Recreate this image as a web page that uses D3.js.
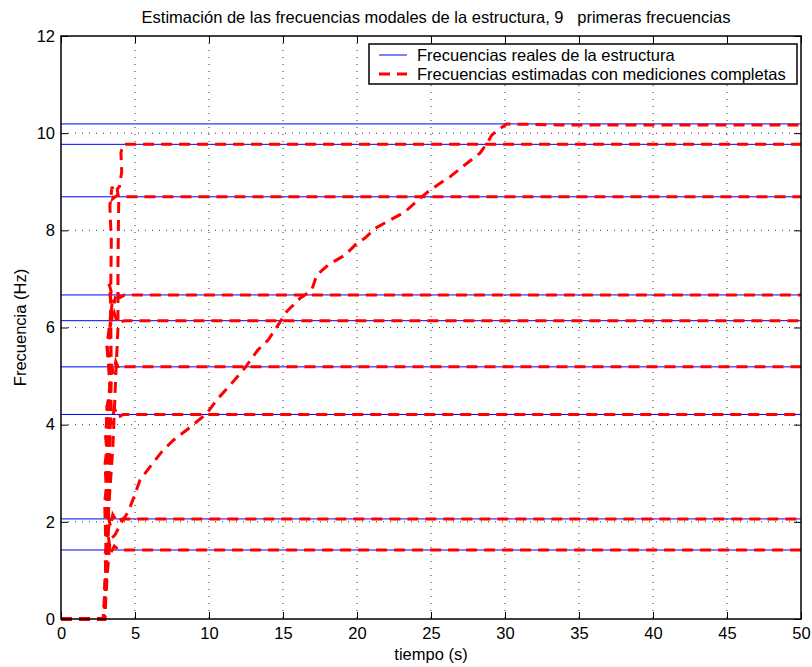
<!DOCTYPE html>
<html>
<head>
<meta charset="utf-8">
<script src="https://cdn.jsdelivr.net/npm/d3@7"></script>
<style>
  body { margin: 0; background: #fff; }
  text { font-family: "Liberation Sans", Arial, sans-serif; white-space: pre; }
</style>
</head>
<body>
<script>
// frecuencias reales (Hz)
const freqReales = [1.42, 2.06, 4.21, 5.19, 6.14, 6.67, 8.69, 9.77, 10.19];
const tiempoReal = [0, 50];

// frecuencias estimadas: tiempo (s) y frecuencia (Hz) de cada serie
const est1T = [0, 2.85, 2.95, 3.1, 2.95, 3.2, 3.35, 3.6, 3.9, 50];
const est1F = [0, 0, 0.3, 0.9, 1.3, 1.7, 1.35, 1.5, 1.42, 1.42];
const est2T = [0, 2.85, 3.0, 3.2, 3.05, 3.35, 3.5, 3.8, 4.1, 50];
const est2F = [0, 0, 0.8, 1.6, 2.3, 1.9, 2.15, 2.0, 2.06, 2.06];
const est3T = [0, 2.9, 3.0, 3.25, 3.05, 3.3, 3.1, 3.45, 3.6, 3.85, 4.2, 50];
const est3F = [0, 0, 1.0, 2.0, 3.0, 3.7, 4.4, 4.0, 4.35, 4.15, 4.21, 4.21];
const est4T = [0, 2.9, 3.05, 2.95, 3.3, 3.05, 3.4, 3.2, 3.55, 3.7, 3.9, 4.2, 50];
const est4F = [0, 0, 1.3, 2.4, 3.3, 4.2, 5.0, 5.5, 5.05, 5.3, 5.15, 5.19, 5.19];
const est5T = [0, 2.9, 3.1, 3.3, 3.0, 3.35, 3.1, 3.45, 3.3, 3.6, 3.8, 4.3, 50];
const est5F = [0, 0, 1.5, 2.8, 3.8, 4.9, 5.6, 6.5, 6.0, 6.3, 6.1, 6.14, 6.14];
const est6T = [0, 2.95, 3.15, 2.98, 3.4, 3.15, 3.45, 3.25, 3.6, 3.75, 4.0, 4.3, 50];
const est6F = [0, 0, 2.0, 3.2, 4.3, 5.5, 6.2, 6.9, 6.5, 6.75, 6.62, 6.67, 6.67];
const est7T = [0, 2.95, 3.1, 3.3, 3.4, 3.35, 3.4, 3.3, 3.45, 3.6, 3.5, 3.8, 4.2, 50];
const est7F = [0, 0, 1.8, 3.5, 5.0, 6.5, 7.8, 8.5, 8.9, 8.75, 8.65, 8.72, 8.69, 8.69];
const est8T = [0, 2.95, 3.15, 3.5, 3.7, 3.85, 3.85, 3.9, 3.8, 3.95, 4.1, 4.05, 4.2, 4.5, 50];
const est8F = [0, 0, 2.0, 3.5, 5.0, 6.0, 7.3, 8.6, 8.85, 8.9, 9.2, 9.6, 9.77, 9.77, 9.77];
const est9T = [0, 2.95, 3.1, 3.31, 3.65, 4.10, 4.55, 4.89, 5.34, 6.01, 6.80, 7.59, 8.49, 9.17, 9.85,
  10.52, 11.53, 12.43, 13.31, 13.99, 14.46, 15.25, 16.15, 16.94, 17.28, 18.06, 19.19, 19.98, 20.54,
  21.22, 22.23, 23.24, 24.26, 24.82, 25.61, 26.28, 27.30, 28.31, 28.87, 29.10, 29.55, 30.12, 33.7, 50];
const est9F = [0, 0, 0.8, 1.63, 1.73, 2.00, 2.21, 2.48, 2.86, 3.13, 3.44, 3.68, 3.89, 4.06, 4.23,
  4.51, 4.85, 5.17, 5.54, 5.74, 5.95, 6.33, 6.60, 6.77, 7.08, 7.29, 7.49, 7.73, 7.84,
  8.04, 8.21, 8.38, 8.66, 8.80, 8.97, 9.10, 9.35, 9.59, 9.83, 9.96, 10.07, 10.19, 10.17, 10.17];

const estT = [est1T, est2T, est3T, est4T, est5T, est6T, est7T, est8T, est9T];
const estF = [est1F, est2F, est3F, est4F, est5F, est6F, est7F, est8F, est9F];

const xTicks = [0, 5, 10, 15, 20, 25, 30, 35, 40, 45, 50];
const yTicks = [0, 2, 4, 6, 8, 10, 12];

const titulo = "Estimación de las frecuencias modales de la estructura, 9   primeras frecuencias";
const leyenda = ["Frecuencias reales de la estructura", "Frecuencias estimadas con mediciones completas"];

var margin = {top: 36, right: 11, bottom: 48, left: 61},
    width = 812 - margin.left - margin.right,
    height = 667 - margin.top - margin.bottom;

const svg = d3.select("body").append("svg")
  .attr("width", 812)
  .attr("height", 667);

const g = svg.append("g")
  .attr("transform", "translate(" + margin.left + "," + margin.top + ")");

const xScale = d3.scaleLinear().domain([0, 50]).range([0, width]);
const yScale = d3.scaleLinear().domain([0, 12]).range([height, 0]);

// rejilla punteada
g.append("g").selectAll("line")
  .data(xTicks.slice(1, -1))
  .enter().append("line")
  .attr("x1", d => xScale(d)).attr("x2", d => xScale(d))
  .attr("y1", 0).attr("y2", height)
  .attr("stroke", "#333").attr("stroke-width", 1)
  .attr("stroke-dasharray", "1,6");

g.append("g").selectAll("line")
  .data(yTicks.slice(1, -1))
  .enter().append("line")
  .attr("x1", 0).attr("x2", width)
  .attr("y1", d => yScale(d)).attr("y2", d => yScale(d))
  .attr("stroke", "#333").attr("stroke-width", 1)
  .attr("stroke-dasharray", "1,6");

// lineas reales
g.append("g").selectAll("line")
  .data(freqReales)
  .enter().append("line")
  .attr("x1", xScale(tiempoReal[0])).attr("x2", xScale(tiempoReal[1]))
  .attr("y1", d => yScale(d)).attr("y2", d => yScale(d))
  .attr("stroke", "#0000ff").attr("stroke-width", 1);

// lineas estimadas
const line = d3.line().x(d => xScale(d[0])).y(d => yScale(d[1]));

g.append("g").selectAll("path")
  .data(estT.map((t, i) => t.map((v, j) => [v, estF[i][j]])))
  .enter().append("path")
  .attr("d", line)
  .attr("fill", "none")
  .attr("stroke", "#ff0000")
  .attr("stroke-width", 3)
  .attr("stroke-dasharray", "11,7");

// ejes
const xAxis = d3.axisBottom(xScale).tickValues(xTicks).tickSizeInner(-7).tickSizeOuter(0).tickPadding(8);
const yAxis = d3.axisLeft(yScale).tickValues(yTicks).tickSizeInner(-7).tickSizeOuter(0).tickPadding(6);

const gx = g.append("g").attr("transform", "translate(0," + height + ")").call(xAxis);
const gy = g.append("g").call(yAxis);
g.append("g").call(d3.axisTop(xScale).tickValues(xTicks).tickSizeInner(-7).tickSizeOuter(0).tickFormat(""));
g.append("g").attr("transform", "translate(" + width + ",0)")
  .call(d3.axisRight(yScale).tickValues(yTicks).tickSizeInner(-7).tickSizeOuter(0).tickFormat(""));

g.selectAll(".domain").remove();
g.selectAll(".tick line").attr("stroke", "#000");
g.selectAll(".tick text").style("font-size", "16.5px").attr("fill", "#000");

g.append("rect")
  .attr("width", width).attr("height", height)
  .attr("fill", "none").attr("stroke", "#000").attr("stroke-width", 1.5);

// textos
svg.append("text")
  .attr("x", 436).attr("y", 23)
  .attr("text-anchor", "middle")
  .style("font-size", "16.5px")
  .text(titulo);

svg.append("text")
  .attr("x", margin.left + width / 2).attr("y", 660)
  .attr("text-anchor", "middle")
  .style("font-size", "16.5px")
  .text("tiempo (s)");

svg.append("text")
  .attr("transform", "rotate(-90)")
  .attr("x", -(margin.top + height / 2)).attr("y", 26)
  .attr("text-anchor", "middle")
  .style("font-size", "16.5px")
  .text("Frecuencia (Hz)");

// leyenda
const lg = svg.append("g").attr("transform", "translate(369,44)");
lg.append("rect")
  .attr("width", 428).attr("height", 40)
  .attr("fill", "#fff").attr("stroke", "#000").attr("stroke-width", 1.5);

lg.append("line").attr("x1", 10).attr("x2", 38).attr("y1", 11).attr("y2", 11)
  .attr("stroke", "#0000ff").attr("stroke-width", 1);
lg.append("line").attr("x1", 10).attr("x2", 38).attr("y1", 30).attr("y2", 30)
  .attr("stroke", "#ff0000").attr("stroke-width", 3).attr("stroke-dasharray", "11,7");

lg.selectAll("text.ley")
  .data(leyenda)
  .enter().append("text")
  .attr("class", "ley")
  .attr("x", 48).attr("y", (d, i) => 11 + i * 19)
  .attr("dy", "0.35em")
  .style("font-size", "16.5px")
  .text(d => d);
</script>
</body>
</html>
